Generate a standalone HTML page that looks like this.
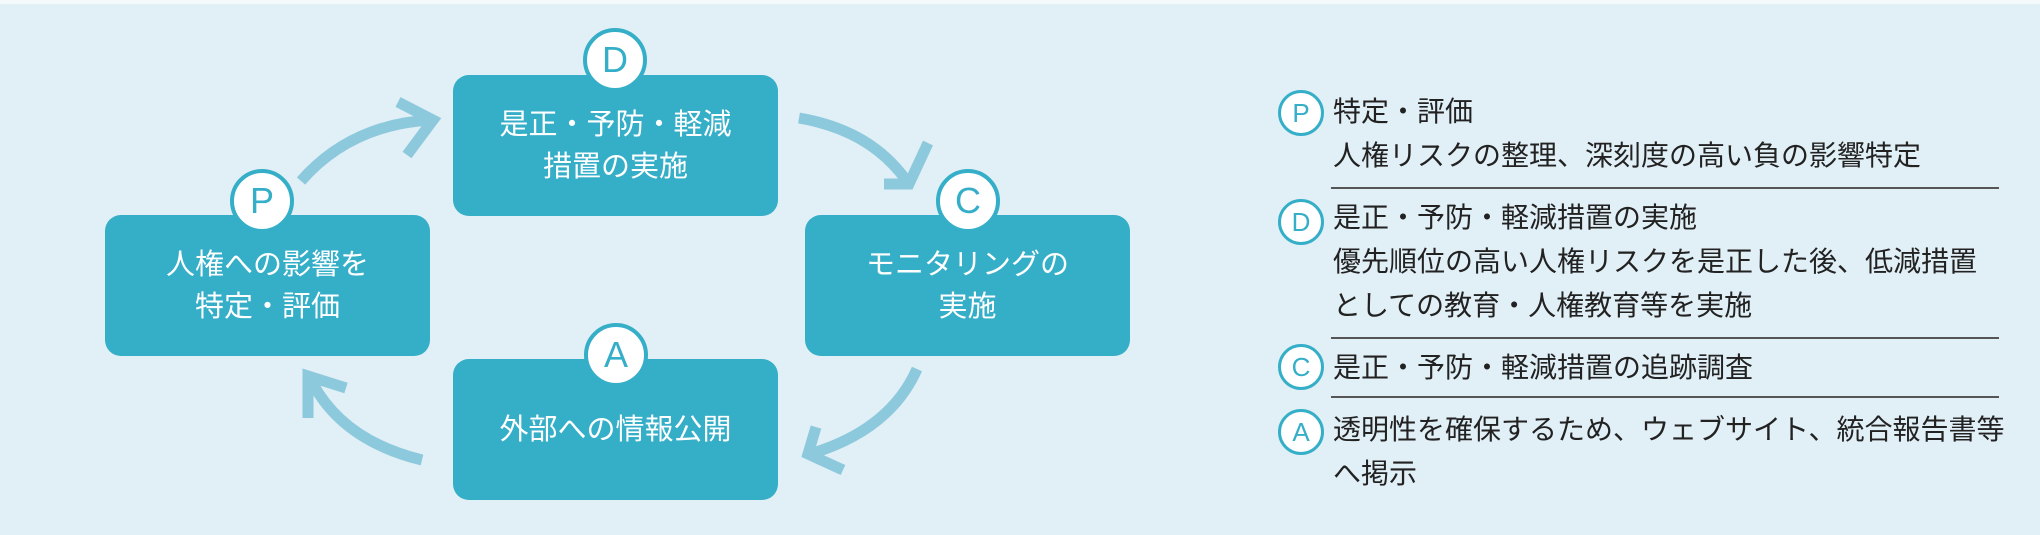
<!DOCTYPE html>
<html><head><meta charset="utf-8"><style>
body{margin:0;width:2040px;height:535px;overflow:hidden;background:#e1eff6;font-family:"Liberation Sans","Noto Sans CJK JP",sans-serif;position:relative}
.top{position:absolute;left:0;top:0;width:2040px;height:4px;background:#f4f9fb}
.box{position:absolute;width:325px;height:141px;background:#35aec8;border-radius:16px;color:#fff;font-size:29px;text-align:center;display:flex;align-items:center;justify-content:center;line-height:42px}
.c{position:absolute;width:56px;height:56px;border:4px solid #35aec8;background:#fff;border-radius:50%;color:#35aec8;font-size:36px;text-align:center;line-height:56px;font-weight:300}
.sc{position:absolute;width:40px;height:40px;border:3px solid #35aec8;background:#fff;border-radius:50%;color:#35aec8;font-size:26px;text-align:center;line-height:40px;left:1278px}
.t{position:absolute;left:1333px;font-size:28px;color:#222;line-height:44px;white-space:nowrap}
.hr{position:absolute;left:1331px;width:668px;height:2px;background:#555}
</style></head><body>
<div class="top"></div>
<svg width="2040" height="535" style="position:absolute;left:0;top:0" fill="none" stroke="#8dc9dc" stroke-width="11">
<path d="M301 181 Q350 125 430 120"/>
<path d="M398 102 L433 120 L407 155"/>
<path d="M799 118 Q870 130 906 180"/>
<path d="M884 184 L909 184 L928 143"/>
<path d="M917 369 Q890 430 810 454"/>
<path d="M843 470 L808 454 L816 427"/>
<path d="M422 460 Q340 440 310 378"/>
<path d="M346 388 L308 376 L308 418"/>
</svg>
<div class="box" style="left:453px;top:75px">是正・予防・軽減<br>措置の実施</div>
<div class="box" style="left:105px;top:215px">人権への影響を<br>特定・評価</div>
<div class="box" style="left:805px;top:215px">モニタリングの<br>実施</div>
<div class="box" style="left:453px;top:359px">外部への情報公開</div>
<div class="c" style="left:583px;top:28px">D</div>
<div class="c" style="left:230px;top:169px">P</div>
<div class="c" style="left:936px;top:169px">C</div>
<div class="c" style="left:584px;top:323px">A</div>

<div class="sc" style="top:90px">P</div>
<div class="t" style="top:90px">特定・評価<br>人権リスクの整理、深刻度の高い負の影響特定</div>
<div class="hr" style="top:187px"></div>
<div class="sc" style="top:199px">D</div>
<div class="t" style="top:196px">是正・予防・軽減措置の実施<br>優先順位の高い人権リスクを是正した後、低減措置<br>としての教育・人権教育等を実施</div>
<div class="hr" style="top:337px"></div>
<div class="sc" style="top:344px">C</div>
<div class="t" style="top:346px">是正・予防・軽減措置の追跡調査</div>
<div class="hr" style="top:396px"></div>
<div class="sc" style="top:409px">A</div>
<div class="t" style="top:408px">透明性を確保するため、ウェブサイト、統合報告書等<br>へ掲示</div>
</body></html>
